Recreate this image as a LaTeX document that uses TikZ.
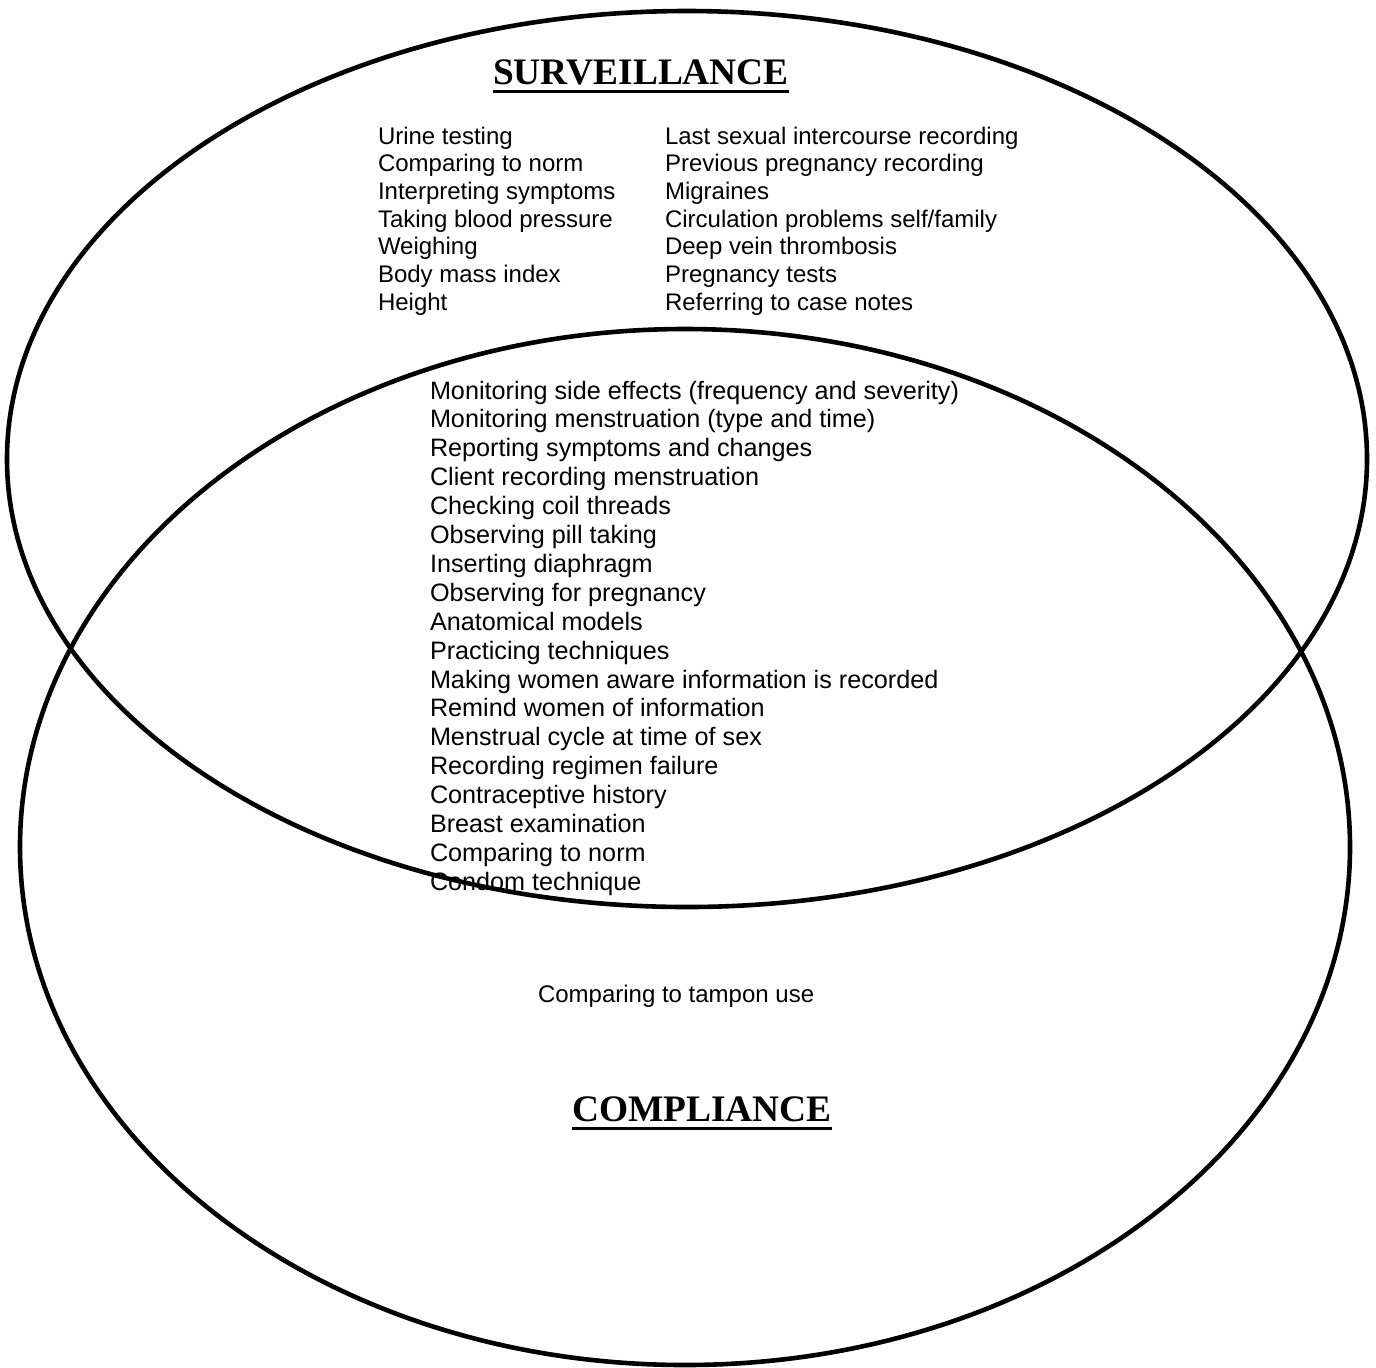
\documentclass[tikz,border=0pt]{standalone}
\usepackage{fontspec}
\setmainfont{Liberation Sans}
\newfontfamily\titlefont{Liberation Serif}
\usetikzlibrary{positioning}

\begin{document}
\begin{tikzpicture}[x=0.5pt, y=-0.5pt,
    every node/.style={inner sep=0pt, outer sep=0pt},
    ring/.style={line width=2.3pt, black},
    item/.style={anchor=base west, font=\fontsize{12}{14}\selectfont},
    mitem/.style={anchor=base west, font=\fontsize{12.6}{15}\selectfont},
    heading/.style={anchor=base, font=\titlefont\bfseries\fontsize{18.7}{22}\selectfont}]
  \useasboundingbox (0,0) rectangle (1376,1367);

  % the two sets
  \coordinate (Top) at (687,459);
  \coordinate (Bottom) at (685,847);
  \draw [ring] (Top) ellipse [x radius=680, y radius=448];
  \draw [ring] (Bottom) ellipse [x radius=665, y radius=518];

  % headings
  \node [heading] (surv) at (641,84) {SURVEILLANCE};
  \draw [line width=1.5pt] ([yshift=-3.5pt]surv.base west) -- ([yshift=-3.5pt]surv.base east);
  \node [heading] (comp) at (702,1121) {COMPLIANCE};
  \draw [line width=1.5pt] ([yshift=-3.5pt]comp.base west) -- ([yshift=-3.5pt]comp.base east);

  % surveillance only
  \foreach \txt [count=\i] in {Urine testing, Comparing to norm,
      Interpreting symptoms, Taking blood pressure, Weighing,
      Body mass index, Height}{%
    \node [item] (s\i) at (378,{144+27.7*(\i-1)}) {\txt};
  }
  \foreach \txt [count=\i] in {Last sexual intercourse recording,
      Previous pregnancy recording, Migraines,
      {Circulation problems self/family}, Deep vein thrombosis,
      Pregnancy tests, Referring to case notes}{%
    \node [item] (r\i) at (665,{144+27.7*(\i-1)}) {\txt};
  }

  % overlap
  \foreach \txt [count=\i] in {{Monitoring side effects (frequency and severity)},
      {Monitoring menstruation (type and time)},
      Reporting symptoms and changes, Client recording menstruation,
      Checking coil threads, Observing pill taking, Inserting diaphragm,
      Observing for pregnancy, Anatomical models, Practicing techniques,
      Making women aware information is recorded,
      Remind women of information, Menstrual cycle at time of sex,
      Recording regimen failure, Contraceptive history,
      Breast examination, Comparing to norm, Condom technique}{%
    \node [mitem] (m\i) at (430,{399+28.9*(\i-1)}) {\txt};
  }

  % compliance only
  \node [item] (tampon) at (538,1002) {Comparing to tampon use};
\end{tikzpicture}
\end{document}
